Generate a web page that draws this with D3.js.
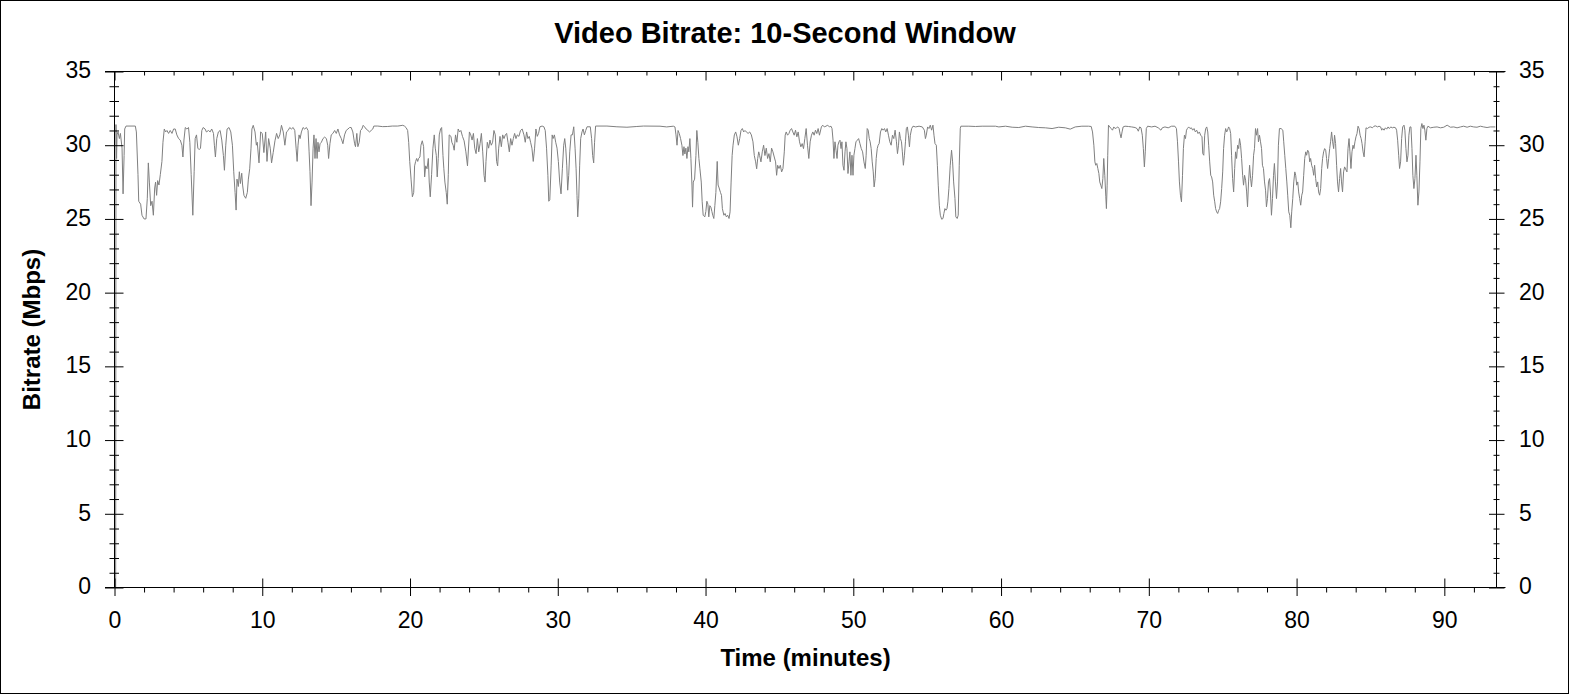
<!DOCTYPE html>
<html>
<head>
<meta charset="utf-8">
<script src="https://cdn.jsdelivr.net/npm/d3@7"></script>
<style>
  html, body { margin: 0; padding: 0; background: #fff; }
  svg { display: block; font-family: "Liberation Sans", Arial, sans-serif; }
</style>
</head>
<body>
<div id="chart"></div>
<script>
// chart text
const chartTitle = "Video Bitrate: 10-Second Window";
const xLabel = "Time (minutes)";
const yLabel = "Bitrate (Mbps)";

// axis ticks
const xMajorTicks = [0, 10, 20, 30, 40, 50, 60, 70, 80, 90];
const yMajorTicks = [0, 5, 10, 15, 20, 25, 30, 35];

// bitrate trace: [minutes, Mbps]
const bitrateTrace = [
  [0.08,0],[0.10,31.4],[0.14,29.1],[0.17,30.7],[0.24,30.9],[0.33,30.45],[0.40,30.8],[0.51,29.8],[0.58,26.7],[0.65,29.3],[0.69,31.1],[0.78,31.3],[1.41,31.3],[1.48,30.9],[1.59,28.0],[1.64,26.2],[1.77,26.0],[1.86,25.25],[2.00,25.0],[2.13,25.0],[2.22,26.4],[2.29,28.8],[2.36,27.5],[2.45,25.9],[2.54,26.2],[2.63,25.25],[2.72,27.1],[2.78,27.5],[2.85,26.6],[2.92,27.6],[3.01,27.3],[3.10,28.0],[3.21,28.9],[3.28,30.2],[3.37,31.1],[3.46,30.9],[3.55,31.0],[3.66,30.8],[3.77,31.0],[3.89,30.8],[4.00,31.1],[4.11,31.1],[4.22,30.7],[4.34,30.45],[4.45,30.35],[4.56,30.0],[4.63,29.2],[4.70,30.35],[4.79,31.2],[4.90,31.1],[5.01,31.2],[5.10,30.2],[5.19,28.0],[5.30,25.25],[5.39,28.2],[5.46,30.45],[5.55,30.7],[5.64,29.8],[5.73,29.7],[5.82,29.8],[5.91,31.0],[6.00,31.2],[6.13,31.1],[6.22,30.9],[6.36,31.0],[6.47,30.9],[6.58,31.1],[6.70,30.8],[6.76,30.0],[6.83,29.2],[6.92,30.45],[7.03,30.9],[7.15,31.0],[7.26,30.35],[7.37,29.3],[7.44,28.3],[7.53,30.0],[7.62,31.1],[7.75,31.2],[7.87,30.9],[7.98,30.0],[8.07,28.2],[8.16,26.8],[8.23,25.6],[8.29,27.7],[8.38,27.2],[8.45,28.2],[8.52,27.4],[8.61,28.1],[8.67,27.3],[8.76,26.6],[8.88,26.4],[8.99,26.8],[9.06,27.7],[9.15,28.4],[9.24,29.8],[9.30,31.1],[9.39,31.35],[9.51,30.9],[9.60,30.0],[9.66,30.2],[9.78,28.8],[9.89,30.9],[10.00,30.8],[10.11,29.5],[10.23,30.9],[10.32,28.9],[10.43,30.45],[10.54,29.8],[10.63,28.8],[10.74,29.5],[10.86,30.3],[10.97,30.8],[11.08,30.45],[11.19,30.7],[11.30,31.35],[11.42,30.9],[11.53,30.0],[11.64,30.9],
  [11.75,31.0],[11.86,31.2],[11.97,31.1],[12.09,31.2],[12.20,31.0],[12.29,29.8],[12.36,28.9],[12.42,30.0],[12.49,30.7],[12.56,30.45],[12.65,30.9],[12.76,31.2],[12.87,31.1],[12.99,31.2],[13.10,31.0],[13.17,29.55],[13.23,28.2],[13.30,25.9],[13.37,27.5],[13.44,29.8],[13.50,30.7],[13.57,29.1],[13.64,30.45],[13.71,29.1],[13.77,30.2],[13.84,29.55],[13.91,30.1],[14.00,30.2],[14.11,30.45],[14.22,30.55],[14.34,30.45],[14.43,30.0],[14.49,29.1],[14.58,30.1],[14.67,30.7],[14.78,30.8],[14.90,31.0],[15.01,30.8],[15.12,31.1],[15.23,30.7],[15.35,30.45],[15.46,30.1],[15.57,30.7],[15.68,31.0],[15.80,31.1],[15.91,31.2],[16.02,31.2],[16.13,30.9],[16.25,30.1],[16.31,29.9],[16.40,30.8],[16.47,29.9],[16.56,30.2],[16.65,31.0],[16.74,31.1],[16.83,31.35],[16.92,31.25],[17.03,31.1],[17.15,31.0],[17.26,30.9],[17.37,31.0],[17.48,31.1],[17.55,31.3],[17.82,31.3],[18.15,31.26],[18.49,31.27],[18.80,31.3],[19.17,31.3],[19.51,31.35],[19.62,31.3],[19.73,31.2],[19.84,31.0],[19.91,30.2],[19.98,28.9],[20.07,27.7],[20.16,26.5],[20.25,26.8],[20.31,28.6],[20.38,28.9],[20.45,29.1],[20.52,28.9],[20.58,29.1],[20.67,29.2],[20.74,30.0],[20.83,30.3],[20.92,29.9],[20.99,27.85],[21.06,28.6],[21.15,28.4],[21.24,29.1],[21.30,27.5],[21.37,26.5],[21.46,28.0],[21.55,29.8],[21.64,30.7],[21.71,29.8],[21.78,29.3],[21.84,27.85],[21.91,29.1],[21.98,30.7],[22.07,31.1],[22.14,31.2],[22.23,29.3],[22.29,28.4],[22.36,27.5],[22.45,26.8],[22.52,26.0],[22.59,28.0],[22.65,30.7],[22.77,30.6],[22.83,30.2],[22.92,30.0],[22.99,29.66],[23.08,30.7],[23.17,30.2],[23.26,31.1],[23.35,30.9],[23.44,31.0],[23.55,30.6],[23.66,30.3],[23.78,29.55],[23.89,28.6],
  [24.02,30.9],[24.11,30.7],[24.20,30.35],[24.29,30.8],[24.38,29.8],[24.47,29.43],[24.56,30.45],[24.65,29.55],[24.74,30.1],[24.83,30.8],[24.92,29.55],[25.01,27.96],[25.08,27.5],[25.14,28.9],[25.23,30.2],[25.32,29.8],[25.41,30.35],[25.50,30.0],[25.59,30.2],[25.68,31.0],[25.77,30.7],[25.86,28.9],[25.93,28.6],[26.00,29.8],[26.09,30.6],[26.18,29.9],[26.27,30.7],[26.36,30.45],[26.45,30.7],[26.54,30.8],[26.63,30.2],[26.72,29.55],[26.81,30.45],[26.90,30.0],[26.99,30.45],[27.08,30.8],[27.17,30.45],[27.26,30.7],[27.37,30.6],[27.48,31.0],[27.59,31.1],[27.71,30.7],[27.80,30.2],[27.89,30.9],[27.98,30.45],[28.07,30.6],[28.16,30.2],[28.25,29.8],[28.34,28.9],[28.43,29.8],[28.52,31.1],[28.61,30.6],[28.70,30.8],[28.79,31.25],[28.94,31.3],[29.06,31.25],[29.15,31.0],[29.24,29.8],[29.33,27.96],[29.39,26.2],[29.46,26.3],[29.55,28.6],[29.62,30.7],[29.68,30.45],[29.77,30.7],[29.86,30.2],[29.95,29.8],[30.04,28.9],[30.13,27.5],[30.22,26.7],[30.31,28.4],[30.40,30.0],[30.47,30.45],[30.54,29.8],[30.61,28.6],[30.67,26.95],[30.74,27.96],[30.81,29.55],[30.90,30.7],[30.99,30.7],[31.08,31.25],[31.17,29.8],[31.24,28.4],[31.30,26.6],[31.35,25.14],[31.42,26.4],[31.48,28.6],[31.55,30.45],[31.64,30.9],[31.71,31.1],[31.80,30.7],[31.89,31.0],[31.98,31.25],[32.20,31.25],[32.29,30.45],[32.36,29.3],[32.43,28.8],[32.49,30.2],[32.56,31.3],[32.65,31.3],[33.33,31.3],[34.00,31.25],[34.68,31.22],[35.35,31.27],[35.80,31.3],
  [36.92,31.29],[37.37,31.24],[37.82,31.29],[37.93,31.24],[38.00,30.7],[38.07,30.0],[38.14,31.0],[38.22,30.8],[38.31,30.45],[38.40,30.0],[38.47,29.3],[38.54,29.9],[38.60,29.4],[38.67,29.8],[38.74,29.1],[38.81,29.9],[38.87,29.55],[38.94,30.45],[39.01,29.1],[39.08,27.3],[39.12,25.8],[39.17,27.5],[39.26,27.7],[39.35,29.3],[39.41,31.0],[39.48,30.2],[39.55,29.1],[39.62,28.4],[39.71,27.5],[39.77,26.2],[39.84,25.25],[39.95,25.14],[40.02,25.5],[40.09,26.2],[40.16,26.0],[40.22,25.14],[40.29,25.9],[40.36,25.8],[40.43,25.5],[40.49,25.25],[40.56,25.03],[40.63,25.9],[40.70,26.8],[40.79,28.9],[40.85,27.3],[40.92,27.1],[41.01,26.8],[41.08,26.6],[41.14,25.7],[41.24,25.25],[41.32,25.37],[41.41,25.14],[41.50,25.25],[41.59,25.03],[41.66,25.48],[41.73,27.5],[41.80,29.3],[41.86,30.0],[41.95,30.7],[42.04,30.9],[42.13,30.57],[42.22,30.0],[42.31,30.45],[42.40,31.0],[42.49,31.13],[42.58,30.9],[42.67,31.0],[42.76,30.9],[42.88,30.8],[42.99,30.9],[43.10,30.7],[43.21,30.23],[43.30,29.3],[43.39,28.87],[43.46,28.4],[43.53,29.1],[43.60,29.55],[43.66,29.3],[43.75,28.87],[43.84,29.55],[43.93,30.0],[44.02,29.3],[44.11,29.8],[44.20,29.1],[44.29,29.43],[44.38,28.87],[44.47,29.8],[44.56,29.55],[44.65,29.2],[44.74,28.87],[44.81,27.96],[44.88,28.64],[44.97,28.42],[45.06,28.64],[45.15,28.19],[45.24,28.42],[45.33,29.55],[45.39,30.68],[45.46,30.9],[45.55,30.68],[45.64,30.79],[45.73,31.02],[45.82,31.13],[45.91,30.9],[46.00,30.68],[46.09,31.02],[46.18,30.57],[46.27,30.9],[46.36,30.23],[46.45,29.89],[46.54,30.11],[46.63,29.77],[46.72,30.45],[46.81,31.13],[46.90,30.0],[46.99,29.1],[47.08,30.23],[47.17,30.68],[47.26,30.9],[47.35,30.68],[47.44,31.02],[47.53,30.79],[47.62,31.13],[47.71,30.68],
  [47.84,31.24],[47.93,31.36],[48.04,31.24],[48.15,31.29],[48.27,31.36],[48.38,31.24],[48.49,31.29],[48.56,31.13],[48.63,30.34],[48.69,29.1],[48.76,30.23],[48.83,29.66],[48.90,29.1],[48.96,30.0],[49.03,30.23],[49.10,30.34],[49.17,29.77],[49.23,30.23],[49.30,28.64],[49.37,28.3],[49.44,29.55],[49.50,30.23],[49.57,29.77],[49.64,28.08],[49.71,28.87],[49.77,29.55],[49.84,27.96],[49.91,29.32],[49.98,27.96],[50.04,29.32],[50.11,29.77],[50.18,30.23],[50.27,30.34],[50.36,30.45],[50.45,30.11],[50.54,29.77],[50.63,29.55],[50.72,28.87],[50.81,28.42],[50.87,29.32],[50.94,31.13],[51.01,31.02],[51.08,30.45],[51.14,30.23],[51.21,29.77],[51.28,28.87],[51.35,28.19],[51.41,27.17],[51.48,27.74],[51.55,29.1],[51.62,29.77],[51.68,30.0],[51.75,30.11],[51.84,30.9],[51.93,31.13],[52.02,31.02],[52.11,31.13],[52.20,30.9],[52.29,31.13],[52.38,30.68],[52.47,30.23],[52.56,30.0],[52.65,30.68],[52.74,30.45],[52.83,31.02],[52.92,30.23],[52.99,29.43],[53.06,30.0],[53.12,30.9],[53.19,30.45],[53.26,30.23],[53.32,29.55],[53.39,28.64],[53.46,29.32],[53.53,30.23],[53.59,31.13],[53.66,31.24],[53.73,30.68],[53.80,29.89],[53.86,30.68],[53.95,31.13],[54.04,31.29],[54.22,31.24],[54.45,31.29],[54.67,31.24],[54.81,31.02],[54.88,30.45],[54.94,30.68],[55.03,31.24],[55.12,31.13],[55.21,31.36],[55.30,31.02],[55.39,31.36],[55.46,30.68],[55.53,30.11],[55.62,30.0],[55.69,28.64],[55.75,27.29],[55.82,25.93],[55.89,25.25],[55.98,24.98],[56.07,25.03],[56.13,25.37],[56.20,25.70],[56.27,25.59],[56.34,25.70],[56.40,26.16],[56.47,27.06],[56.56,28.64],[56.65,29.66],[56.72,28.87],[56.79,27.51],[56.88,26.38],[56.94,25.14],[57.03,25.03],[57.10,25.25],[57.17,28.64],[57.24,31.13],[57.28,31.29],[57.82,31.29],[58.27,31.27],[58.72,31.29],[59.62,31.29],
  [59.85,31.24],[60.30,31.29],[60.75,31.22],[61.20,31.2],[61.65,31.29],[62.10,31.24],[62.55,31.2],[63.00,31.18],[63.45,31.13],[63.90,31.22],[64.35,31.18],[64.68,31.09],[65.02,31.24],[65.47,31.29],[65.92,31.29],[66.10,31.27],[66.19,30.9],[66.28,30.0],[66.35,28.87],[66.41,28.64],[66.48,28.76],[66.55,28.42],[66.62,28.08],[66.68,27.51],[66.75,27.29],[66.82,27.06],[66.89,27.74],[66.95,29.1],[67.02,27.96],[67.09,26.50],[67.13,25.70],[67.18,27.29],[67.22,29.32],[67.27,31.36],[67.36,31.24],[67.45,31.13],[67.54,31.02],[67.63,31.24],[67.72,31.13],[67.81,31.18],[67.90,31.24],[67.99,31.13],[68.05,30.79],[68.12,30.5],[68.19,30.9],[68.26,31.24],[68.39,31.29],[68.62,31.27],[68.84,31.24],[69.07,31.2],[69.20,31.13],[69.29,30.95],[69.38,31.24],[69.47,31.18],[69.56,30.68],[69.63,29.77],[69.70,28.53],[69.76,29.55],[69.83,31.13],[69.92,31.29],[70.19,31.24],[70.42,31.29],[70.64,31.18],[70.82,31.02],[70.91,31.18],[71.09,31.24],[71.31,31.18],[71.54,31.29],
  [71.76,31.29],[71.87,31.13],[71.94,30.23],[72.01,28.87],[72.07,27.51],[72.14,26.61],[72.21,26.16],[72.28,27.96],[72.34,29.77],[72.41,30.68],[72.48,30.45],[72.55,31.02],[72.61,31.13],[72.70,31.24],[72.79,31.13],[72.88,31.18],[72.97,31.02],[73.06,31.13],[73.15,30.90],[73.24,31.02],[73.33,30.79],[73.42,30.90],[73.51,30.68],[73.60,30.57],[73.65,29.43],[73.72,29.32],[73.78,30.68],[73.85,31.13],[73.92,31.24],[73.99,30.90],[74.05,30.0],[74.12,28.87],[74.19,27.96],[74.25,27.85],[74.32,27.51],[74.39,26.61],[74.46,26.16],[74.52,25.70],[74.59,25.48],[74.66,25.37],[74.73,25.59],[74.79,25.70],[74.86,26.16],[74.93,27.06],[75.00,28.19],[75.06,29.77],[75.13,30.68],[75.20,31.13],[75.27,30.90],[75.33,31.02],[75.40,31.24],[75.47,31.13],[75.54,30.79],[75.60,29.32],[75.67,27.74],[75.74,26.83],[75.81,28.42],[75.87,29.55],[75.94,29.10],[76.01,30.0],[76.08,29.77],[76.14,30.45],[76.21,30.0],[76.28,29.10],[76.35,27.96],[76.41,27.29],[76.48,27.96],[76.55,27.63],[76.62,26.83],[76.68,25.82],[76.75,27.51],[76.82,28.64],[76.89,27.74],[76.95,27.17],[77.02,27.96],[77.09,29.32],[77.15,29.77],[77.22,31.13],[77.29,30.68],[77.36,31.13],[77.42,30.23],[77.49,30.68],[77.56,30.23],[77.63,29.77],[77.69,28.64],[77.76,28.42],[77.83,27.51],[77.90,26.95],[77.96,25.82],[78.03,26.38],[78.10,27.51],[78.17,27.74],[78.23,26.83],[78.30,25.25],[78.37,26.38],[78.44,27.96],[78.50,28.76],[78.57,27.51],[78.64,26.38],[78.71,27.51],[78.77,30.0],[78.84,31.13],[78.95,31.13],[79.07,31.02],[79.13,30.23],[79.20,29.32],[79.27,28.42],[79.34,27.51],[79.40,26.61],[79.47,25.48],[79.54,25.25],[79.61,24.40],[79.67,25.48],[79.74,26.38],[79.81,27.51],[79.88,28.19],[79.94,27.96],[80.01,27.29],[80.08,27.51],[80.14,26.83],[80.21,26.38],[80.28,25.93],[80.35,26.61],[80.41,26.83],[80.48,27.96],[80.55,29.10],[80.62,29.55],[80.68,29.32],[80.75,29.66],[80.82,29.55],[80.89,28.87],[80.95,29.10],[81.02,28.64],[81.09,28.42],[81.16,27.96],[81.22,28.64],[81.29,27.74],[81.36,27.17],[81.43,27.51],[81.49,26.83],[81.56,26.61],[81.63,27.06],[81.70,28.42],[81.76,29.10],[81.83,29.55],[81.90,29.77],[81.97,29.66],[82.03,29.10],[82.10,28.42],[82.17,29.10],[82.24,29.77],[82.30,30.23],[82.37,30.90],[82.44,30.23],[82.51,29.77],[82.57,30.68],[82.64,30.11],[82.71,28.64],[82.77,27.51],[82.84,26.83],[82.91,27.74],[82.98,28.42],[83.04,27.51],[83.11,26.83],[83.18,28.19],[83.25,28.53],
  [83.41,28.19],[83.48,29.77],[83.55,30.45],[83.61,29.55],[83.68,28.42],[83.75,29.55],[83.82,30.0],[83.88,29.77],[83.95,30.23],[84.02,30.57],[84.09,30.79],[84.16,31.29],[84.23,31.13],[84.30,30.68],[84.37,30.45],[84.43,30.11],[84.50,29.55],[84.57,29.21],[84.64,30.23],[84.70,31.18],[84.79,31.13],[84.91,31.22],[85.02,31.24],[85.13,31.18],[85.24,31.29],[85.36,31.31],[85.47,31.24],[85.58,31.29],[85.69,31.24],[85.76,31.02],[85.83,31.13],[85.92,31.02],[86.01,31.18],[86.10,31.09],[86.19,31.24],[86.28,31.13],[86.37,31.24],[86.48,31.18],[86.59,31.22],[86.70,31.18],[86.77,31.02],[86.84,30.34],[86.91,29.32],[86.97,28.42],[87.04,28.87],[87.11,30.45],[87.18,31.24],[87.27,31.36],[87.33,31.02],[87.40,29.77],[87.47,28.87],[87.54,29.32],[87.60,30.68],[87.67,31.24],[87.74,31.24],[87.81,29.77],[87.87,27.96],[87.94,27.06],[88.01,27.74],[88.08,29.32],[88.14,27.96],[88.21,25.93],[88.28,26.83],[88.35,28.87],[88.41,31.13],[88.48,31.47],[88.55,31.13],[88.62,31.36],[88.68,31.02],[88.75,30.34],[88.82,31.13],[88.89,31.29],[89.06,31.18],[89.29,31.22],[89.51,31.24],[89.74,31.18],[89.96,31.22],[90.19,31.36],[90.41,31.22],[90.64,31.24],[90.86,31.18],[91.09,31.24],[91.31,31.29],[91.54,31.22],[91.76,31.29],[91.99,31.24],[92.21,31.22],[92.44,31.29],[92.66,31.24],[92.89,31.20],[93.11,31.24],[93.45,31.24]
];

const width = 1570;
const height = 695;
const marginTop = 71.5;
const marginRight = 73.5;
const marginBottom = 107.5;
const marginLeft = 114.5;
const xMax = 93.53;
const yMax = 35;

const x = d3.scaleLinear()
    .domain([0, xMax])
    .range([marginLeft, width - marginRight]);

const y = d3.scaleLinear()
    .domain([0, yMax])
    .range([height - marginBottom, marginTop]);

const xMinorTicks = d3.range(0, xMax, 2).filter(d => d % 10 !== 0);
const yMinorTicks = d3.range(0, yMax, 1).filter(d => d % 5 !== 0);

const svg = d3.select("#chart").append("svg")
    .attr("width", width)
    .attr("height", height)
    .attr("viewBox", [0, 0, width, height]);

// outer frame
svg.append("rect")
    .attr("x", 0.5).attr("y", 0.5)
    .attr("width", width - 2).attr("height", height - 2)
    .attr("fill", "#fff")
    .attr("stroke", "#000");

// bitrate line
const line = d3.line()
    .x(d => x(d[0]))
    .y(d => y(d[1]));

svg.append("path")
    .datum(bitrateTrace)
    .attr("fill", "none")
    .attr("stroke", "#808080")
    .attr("stroke-width", 1)
    .attr("d", line);

const tickFont = g => g
    .attr("font-family", "'Liberation Sans', Arial, sans-serif")
    .attr("font-size", 23)
    .call(g => g.selectAll("text").attr("fill", "#000"))
    .call(g => g.selectAll("line").attr("stroke", "#000"));

const noDomain = g => g.select(".domain").remove();

const bottomY = height - marginBottom;
const rightX = width - marginRight;

// bottom axis: labels + outward ticks
svg.append("g")
    .attr("transform", `translate(0,${bottomY})`)
    .call(d3.axisBottom(x).tickValues(xMajorTicks).tickSize(8.5).tickPadding(16).tickFormat(d3.format("d")))
    .call(tickFont)
    .call(g => g.select(".domain").attr("d", `M${marginLeft - 9.5},0H${rightX + 9}`).attr("stroke", "#000"));
svg.append("g")
    .attr("transform", `translate(0,${bottomY})`)
    .call(d3.axisTop(x).tickValues(xMajorTicks).tickSize(9).tickFormat(""))
    .call(tickFont).call(noDomain);
svg.append("g")
    .attr("transform", `translate(0,${bottomY})`)
    .call(d3.axisBottom(x).tickValues(xMinorTicks).tickSize(5).tickFormat(""))
    .call(tickFont).call(noDomain);

// top axis: inward ticks only
svg.append("g")
    .attr("transform", `translate(0,${marginTop})`)
    .call(d3.axisBottom(x).tickValues(xMajorTicks).tickSize(9).tickFormat(""))
    .call(tickFont)
    .call(g => g.select(".domain").attr("d", `M${marginLeft - 9.5},0H${rightX + 9}`).attr("stroke", "#000"));
svg.append("g")
    .attr("transform", `translate(0,${marginTop})`)
    .call(d3.axisBottom(x).tickValues(xMinorTicks).tickSize(4).tickFormat(""))
    .call(tickFont).call(noDomain);

// left axis: ticks cross the axis line
svg.append("g")
    .attr("transform", `translate(${marginLeft},0)`)
    .call(d3.axisLeft(y).tickValues(yMajorTicks).tickSize(9.5).tickPadding(14))
    .call(tickFont)
    .call(g => g.selectAll("text").attr("dy", "0.28em"))
    .call(g => g.select(".domain").attr("d", `M0,${marginTop}V${bottomY}`).attr("stroke", "#000"));
svg.append("g")
    .attr("transform", `translate(${marginLeft},0)`)
    .call(d3.axisRight(y).tickValues(yMajorTicks).tickSize(9).tickFormat(""))
    .call(tickFont).call(noDomain);
svg.append("g")
    .attr("transform", `translate(${marginLeft},0)`)
    .call(d3.axisLeft(y).tickValues(yMinorTicks).tickSize(5).tickFormat(""))
    .call(tickFont).call(noDomain);
svg.append("g")
    .attr("transform", `translate(${marginLeft},0)`)
    .call(d3.axisRight(y).tickValues(yMinorTicks).tickSize(4.5).tickFormat(""))
    .call(tickFont).call(noDomain);

// right axis: mirrored labels
svg.append("g")
    .attr("transform", `translate(${rightX},0)`)
    .call(d3.axisRight(y).tickValues(yMajorTicks).tickSize(8).tickPadding(14.5))
    .call(tickFont)
    .call(g => g.selectAll("text").attr("dy", "0.28em"))
    .call(g => g.select(".domain").attr("d", `M0,${marginTop}V${bottomY}`).attr("stroke", "#000"));
svg.append("g")
    .attr("transform", `translate(${rightX},0)`)
    .call(d3.axisLeft(y).tickValues(yMajorTicks).tickSize(7.5).tickFormat(""))
    .call(tickFont).call(noDomain);
svg.append("g")
    .attr("transform", `translate(${rightX},0)`)
    .call(d3.axisRight(y).tickValues(yMinorTicks).tickSize(3).tickFormat(""))
    .call(tickFont).call(noDomain);
svg.append("g")
    .attr("transform", `translate(${rightX},0)`)
    .call(d3.axisLeft(y).tickValues(yMinorTicks).tickSize(3).tickFormat(""))
    .call(tickFont).call(noDomain);

// title and axis labels
svg.append("text")
    .attr("x", width / 2)
    .attr("y", 43)
    .attr("text-anchor", "middle")
    .attr("font-size", 29)
    .attr("font-weight", "bold")
    .text(chartTitle);

svg.append("text")
    .attr("x", (marginLeft + rightX) / 2)
    .attr("y", 666)
    .attr("text-anchor", "middle")
    .attr("font-size", 24)
    .attr("font-weight", "bold")
    .text(xLabel);

svg.append("text")
    .attr("transform", `translate(40,${(marginTop + bottomY) / 2}) rotate(-90)`)
    .attr("text-anchor", "middle")
    .attr("font-size", 24)
    .attr("font-weight", "bold")
    .text(yLabel);
</script>
</body>
</html>
